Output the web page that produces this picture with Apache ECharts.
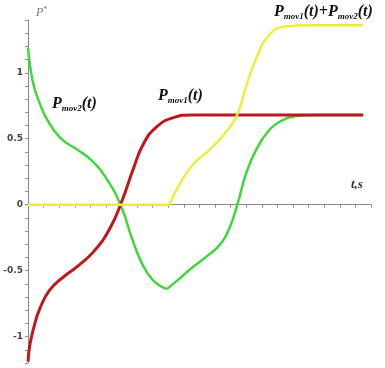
<!DOCTYPE html>
<html><head><meta charset="utf-8">
<script src="https://cdn.jsdelivr.net/npm/echarts@6/dist/echarts.min.js"></script>
<style>html,body{margin:0;padding:0;background:#fff}#c{width:385px;height:368px}</style>
</head><body><div id="c"></div>
<script>
// P_mov1(t) (red)
const redT = [0, 0.05, 0.15, 0.3, 0.55, 0.9, 1.3, 1.7, 2.1, 2.4, 2.7, 2.96, 3.3, 3.73, 4.2, 5, 6, 7, 8, 8.6];
const redV = [-1.19, -1.06, -0.93, -0.79, -0.65, -0.55, -0.46, -0.35, -0.18, 0.02, 0.27, 0.46, 0.59, 0.66, 0.68, 0.68, 0.68, 0.68, 0.68, 0.68];
// P_mov2(t) (green), falling part then rising part (cusp at minimum)
const greenT1 = [0, 0.05, 0.15, 0.3, 0.5, 0.85, 1.25, 1.65, 2.05, 2.4, 2.65, 2.9, 3.2, 3.56];
const greenV1 = [1.19, 1.06, 0.90, 0.77, 0.64, 0.50, 0.42, 0.33, 0.18, -0.02, -0.24, -0.43, -0.57, -0.64];
const greenT2 = [3.56, 3.85, 4.2, 4.55, 4.9, 5.15, 5.36, 5.6, 5.86, 6.2, 6.5, 6.85, 7.3, 8.0, 8.6];
const greenV2 = [-0.64, -0.57, -0.48, -0.40, -0.31, -0.19, -0.01, 0.24, 0.42, 0.57, 0.635, 0.67, 0.68, 0.68, 0.68];
// P_mov1(t)+P_mov2(t) (yellow)
const yellowT1 = [0, 3.62];
const yellowV1 = [0, 0];
const yellowT2 = [3.62, 3.9, 4.25, 4.67, 5.05, 5.35, 5.6, 5.87, 6.2, 6.6, 7.2, 8.0, 8.6];
const yellowV2 = [0, 0.16, 0.31, 0.42, 0.54, 0.67, 0.9, 1.12, 1.29, 1.35, 1.36, 1.36, 1.36];
// tick labels
const xTickLabels = [2, 4, 6, 8];
const yTickLabels = [-1, -0.5, 0, 0.5, 1];

const pair = (t, v) => t.map((x, i) => [x, v[i]]);
const near = (v, arr) => arr.find(a => Math.abs(a - v) < 1e-6);

const chart = echarts.init(document.getElementById('c'), null, {renderer: 'canvas'});
const lineBase = {type: 'line', showSymbol: false, symbol: 'none', smooth: 0.5, animation: false};
const serif = '"Liberation Serif", "DejaVu Serif", serif';
const labelRich = {
  p: {fontFamily: serif, fontStyle: 'italic', fontWeight: 'bold', fontSize: 16, fill: '#111', lineHeight: 18},
  s: {fontFamily: serif, fontStyle: 'italic', fontWeight: 'bold', fontSize: 9, fill: '#111', verticalAlign: 'bottom', lineHeight: 10}
};

chart.setOption({
  animation: false,
  grid: {left: 28, right: 14, top: 20, bottom: 5, containLabel: false, outerBoundsMode: 'none'},
  xAxis: {
    type: 'value', min: 0, max: 8.8, interval: 0.4,
    axisLine: {onZero: true, lineStyle: {color: '#8a8a8a', width: 1}},
    axisTick: {show: true, length: 3, lineStyle: {color: '#8a8a8a'}},
    axisLabel: {
      formatter: v => { const m = near(v, xTickLabels); return m === undefined ? '' : String(m); },
      fontSize: 9, fontWeight: 'bold', color: '#444', margin: 6, fontFamily: 'DejaVu Sans'
    },
    splitLine: {show: false}
  },
  yAxis: {
    type: 'value', min: -1.2, max: 1.4, interval: 0.1,
    axisLine: {show: true, lineStyle: {color: '#8a8a8a', width: 1}},
    axisTick: {show: true, length: 3, lineStyle: {color: '#8a8a8a'}},
    axisLabel: {
      formatter: v => { const m = near(v, yTickLabels); return m === undefined ? '' : String(m); },
      fontSize: 9, fontWeight: 'bold', color: '#444', margin: 5, fontFamily: 'DejaVu Sans'
    },
    splitLine: {show: false}
  },
  series: [
    Object.assign({}, lineBase, {name: 'Pmov2a', data: pair(greenT1, greenV1), lineStyle: {color: '#3fd83a', width: 2.5}}),
    Object.assign({}, lineBase, {name: 'Pmov2b', data: pair(greenT2, greenV2), lineStyle: {color: '#3fd83a', width: 2.5}}),
    Object.assign({}, lineBase, {name: 'Pmov1', data: pair(redT, redV), lineStyle: {color: '#c0161c', width: 3}}),
    Object.assign({}, lineBase, {name: 'Psum1', smooth: false, data: pair(yellowT1, yellowV1), lineStyle: {color: '#eeee3a', width: 2.5}}),
    Object.assign({}, lineBase, {name: 'Psum2', data: pair(yellowT2, yellowV2), lineStyle: {color: '#eeee3a', width: 2.5}})
  ],
  graphic: [
    {type: 'text', left: 36, top: 6, style: {text: '{p|P}{s|*}', rich: {
      p: {fontFamily: serif, fontStyle: 'italic', fontSize: 12, fill: '#777', lineHeight: 14},
      s: {fontFamily: serif, fontSize: 8, fill: '#777', verticalAlign: 'top', lineHeight: 8}}}},
    {type: 'text', left: 351, top: 178, style: {text: 't,s', font: 'italic bold 13px ' + serif, fill: '#333'}},
    {type: 'text', left: 52, top: 96, style: {text: '{p|P}{s|mov2}{p|(t)}', rich: labelRich}},
    {type: 'text', left: 158, top: 88, style: {text: '{p|P}{s|mov1}{p|(t)}', rich: labelRich}},
    {type: 'text', left: 274, top: 4, style: {text: '{p|P}{s|mov1}{p|(t)+P}{s|mov2}{p|(t)}', rich: labelRich}}
  ]
});
</script>
</body></html>
